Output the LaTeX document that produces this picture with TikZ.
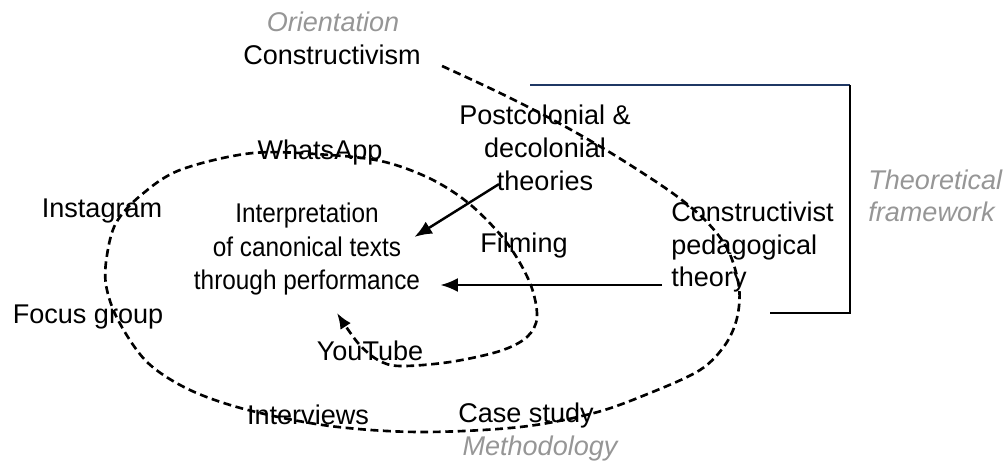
\documentclass[tikz,border=0pt]{standalone}
\usepackage{fontspec}
\setmainfont{Liberation Sans}
\newfontfamily\narrowsans[FakeStretch=0.9]{Liberation Sans}
\usetikzlibrary{arrows.meta}
\definecolor{notegray}{RGB}{150,150,150}
\definecolor{framenavy}{RGB}{31,56,100}
\begin{document}
\begin{tikzpicture}
	  [
	    x                       = 0.02cm,
	    y                       = -0.02cm,
	    every node/.style       = {inner sep=0pt, font=\fontsize{15.4}{18.7}\selectfont},
	    note/.style             = {text=notegray, font=\fontsize{15.4}{18.3}\selectfont\itshape},
	    arr/.style              = {draw, line width=1.4pt, -{Latex[length=10pt,width=8pt]}},
	    spiralline/.style       = {draw, line width=1.5pt, dash pattern=on 4.5pt off 2.6pt,
	                               -{Latex[length=9pt,width=7pt]}},
	    frameline/.style        = {line width=1.6pt}
		]
	  \useasboundingbox (0,0) rectangle (1007,464);
	  % theoretical framework
	  \node [note] (orient) at (333,22) {Orientation};
	  \node (constr) at (332,55) {Constructivism};
	  \node [align=center] (post) at (545,148) {Postcolonial \&\\decolonial\\theories};
	  \node [align=left, anchor=west] (cped) at (671,247) {Constructivist\\pedagogical\\theory};
	  \node [note, align=left, anchor=west] (theo) at (868,196) {Theoretical\\framework};
	  % centre
	  \node [align=center, font=\narrowsans\fontsize{15.4}{19.3}\selectfont] (interp) at (307,249)
	  	{Interpretation\\of canonical texts\\through performance};
	  % methods
	  \node (whats) at (320,152) {WhatsApp};
	  \node (insta) at (102,211) {Instagram};
	  \node (focus) at (88,317) {Focus group};
	  \node (film) at (524,245) {Filming};
	  \node (yout) at (370,351) {YouTube};
	  \node (intv) at (308,415) {Interviews};
	  \node (cases) at (526,415) {Case study};
	  \node [note] (meth) at (540,448) {Methodology};
	  % bracket
	  \draw [frameline, framenavy] (530,85) -- (850,85);
	  \draw [frameline] (850,85) -- (850,313) -- (770,313);
	  % arrows
	  \draw [arr] ([shift={(40,-7)}]post.south west) -- ([shift={(-6,-12)}]interp.east);
	  \draw [arr] ([shift={(-9,38)}]cped.west) -- ([shift={(20,36)}]interp.east);
	  % spiral
	  \coordinate (sstart) at ([shift={(21,11)}]constr.east);
	  \draw [spiralline] plot [smooth, tension=0.55] coordinates {
	  	(sstart) (500,93) (555,121) (611,153) (671,192) (705,220) (728,250)
	  	(739,287) (737,318) (725,345) (700,370) (650,393) (594,413) (520,427)
	  	(420,432) (330,426) (248,410) (190,390) (147,362) (118,320) (106,285)
	  	(107,255) (116,223) (140,196) (180,170) (253,153) (330,155) (385,162)
	  	(433,180) (472,206) (507,243) (530,283) (537,317) (527,337) (500,351)
	  	(450,362) (400,366) (378,360) (358,343) (337,313)};
	\end{tikzpicture}
\end{document}
